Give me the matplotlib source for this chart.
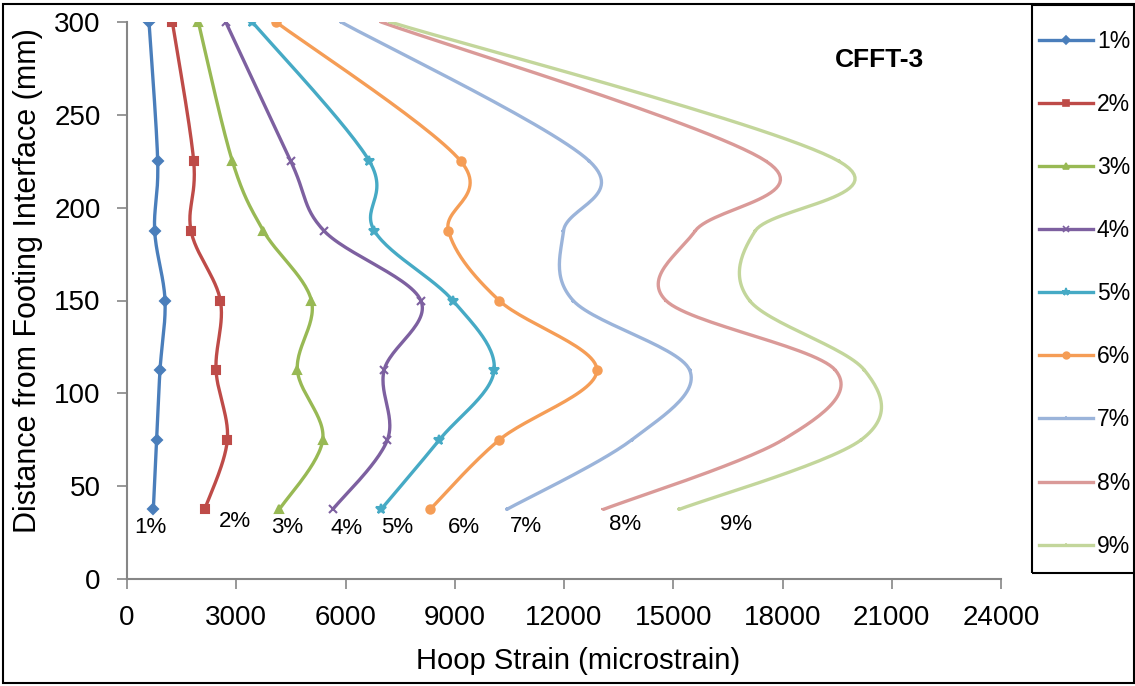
import numpy as np
import matplotlib
matplotlib.use("Agg")
from matplotlib import pyplot as plt
from matplotlib.patches import Rectangle

plt.rcParams['font.family'] = ['Liberation Sans', 'DejaVu Sans']

# gauge heights (mm), bottom to top
heights = [37.5, 75, 112.5, 150, 187.5, 225, 300]

labels = ["1%", "2%", "3%", "4%", "5%", "6%", "7%", "8%", "9%"]
s1 = [723, 815, 906, 1044, 760, 843, 604]
s2 = [2134, 2756, 2445, 2564, 1758, 1832, 1245]
s3 = [4185, 5375, 4679, 5063, 3746, 2894, 1959]
s4 = [5650, 7151, 7060, 8068, 5412, 4497, 2711]
s5 = [6977, 8579, 10082, 8947, 6794, 6657, 3442]
s6 = [8323, 10227, 12903, 10219, 8827, 9167, 4093]
s7 = [10430, 13864, 15450, 12250, 11986, 12700, 5879]
s8 = [13084, 18012, 19450, 14798, 15603, 17550, 6977]
s9 = [15163, 20163, 20250, 17095, 17251, 19550, 7225]
series = [s1, s2, s3, s4, s5, s6, s7, s8, s9]

# in-plot drift labels
lab_x = [632, 2967, 4395, 6016, 7417, 9258, 10961, 13680, 16729]
lab_y = [28, 31, 27.5, 27, 28, 27.5, 28.5, 29.5, 29.5]

colors = ["#4A7EBB", "#BE4B48", "#98B954", "#7D60A0", "#46AAC5",
          "#F59D56", "#9BB4DA", "#DA9A98", "#C3D69B"]
markers = ["D", "s", "^", "x", "*", "o", "+", "_", "+"]
msizes = [5, 6, 6, 6, 7, 6, 3, 3, 3]

XMAX, YMAX = 24000, 300
SX, SY = 874.0, 557.0  # plot area size in pixels, for the smoothing


def smooth(xs, ys, n=30):
    # Excel-like smoothed line: cubic bezier with catmull-rom control points
    P = np.column_stack([np.asarray(xs) / XMAX * SX, np.asarray(ys) / YMAX * SY])
    out = [P[0]]
    m = len(P)
    for i in range(m - 1):
        p0 = P[max(i - 1, 0)]
        p1 = P[i]
        p2 = P[i + 1]
        p3 = P[min(i + 2, m - 1)]
        c1 = p1 + (p2 - p0) / 6.0
        c2 = p2 - (p3 - p1) / 6.0
        t = np.linspace(0, 1, n)[1:, None]
        seg = ((1 - t) ** 3) * p1 + 3 * ((1 - t) ** 2) * t * c1 + 3 * (1 - t) * t ** 2 * c2 + t ** 3 * p2
        out.extend(seg)
    out = np.array(out)
    return out[:, 0] / SX * XMAX, out[:, 1] / SY * YMAX


fig = plt.figure(figsize=(11.35, 6.86), dpi=100)
ax = fig.add_axes([127 / 1135, 1 - 579 / 686, 874 / 1135, 557 / 686])

handles = []
for vals, lab, c, mk, ms in zip(series, labels, colors, markers, msizes):
    sx, sy = smooth(vals, heights)
    ax.plot(sx, sy, color=c, lw=2.4, solid_capstyle='round', zorder=2)
    ax.plot(vals, heights, linestyle='none', marker=mk, ms=ms, color=c,
            mec=c, mew=1.5, zorder=3)
    h, = ax.plot([], [], color=c, lw=2.4, marker=mk, ms=ms * 0.8, mec=c, mew=1.2)
    handles.append(h)

for lab, tx, ty in zip(labels, lab_x, lab_y):
    ax.text(tx, ty, lab, fontsize=16, ha='center', va='center')

ax.text(20657, 279.5, "CFFT-3", fontsize=19, fontweight='bold', ha='center', va='center')

ax.set_xlim(0, XMAX)
ax.set_ylim(0, YMAX)
ax.set_xticks(np.arange(0, 24001, 3000))
ax.set_yticks(np.arange(0, 301, 50))
ax.tick_params(axis='both', direction='out', length=7, width=1.2, color='#868686',
               labelsize=20, pad=12)
for side in ['top', 'right']:
    ax.spines[side].set_visible(False)
for side in ['left', 'bottom']:
    ax.spines[side].set_color('#868686')
    ax.spines[side].set_linewidth(1.5)

ax.set_xlabel("Hoop Strain (microstrain)", fontsize=21)
ax.set_ylabel("Distance from Footing Interface (mm)", fontsize=22)
ax.xaxis.set_label_coords(0.5166, -0.122)
ax.yaxis.set_label_coords(-0.096, 0.535)

# legend box (right edge runs off the picture, as in the original)
fig.patches.append(Rectangle((1032 / 1135, 1 - 573 / 686), 120 / 1135, 568 / 686,
                             transform=fig.transFigure, fill=False, edgecolor='black',
                             linewidth=1.5, zorder=5))
fig.legend(handles, labels, loc='upper left', bbox_to_anchor=(1032 / 1135, 1 - 23 / 686),
           fontsize=16.5, frameon=False, labelspacing=1.75,
           handlelength=2.36, handletextpad=0.17, borderpad=0.3, borderaxespad=0)

# outer border
fig.patches.append(Rectangle((3 / 1135, 3 / 686), 1 - 4 / 1135, 1 - 7 / 686,
                             transform=fig.transFigure, fill=False, edgecolor='black',
                             linewidth=1.5))

fig.savefig("out.png", dpi=100)
